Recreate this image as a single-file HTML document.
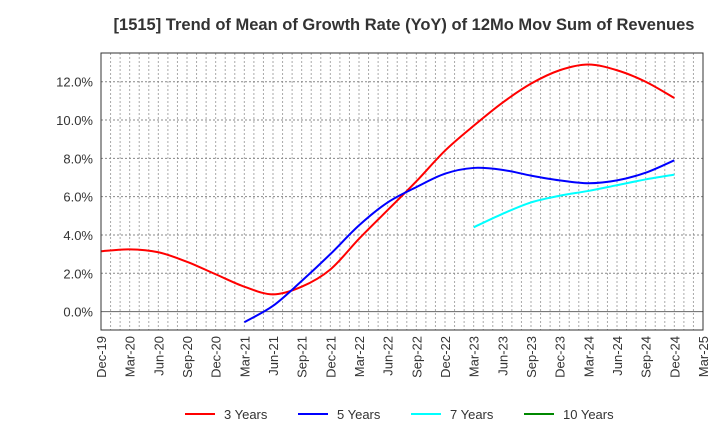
<!DOCTYPE html>
<html><head><meta charset="utf-8"><style>
body{margin:0;background:#fff;font-family:"Liberation Sans",sans-serif}
svg{display:block}
</style></head><body>
<svg id="c" width="720" height="440" xmlns="http://www.w3.org/2000/svg">
<text x="404" y="30" text-anchor="middle" font-size="16.5" font-weight="bold" fill="#333">[1515]  Trend of Mean of Growth Rate (YoY) of 12Mo Mov Sum of Revenues</text>
<g id="grid"></g><g id="series"></g><g id="axes"></g><g id="legend"></g>
</svg>
<script>
const xLabels=["Dec-19","Mar-20","Jun-20","Sep-20","Dec-20","Mar-21","Jun-21","Sep-21","Dec-21","Mar-22","Jun-22","Sep-22","Dec-22","Mar-23","Jun-23","Sep-23","Dec-23","Mar-24","Jun-24","Sep-24","Dec-24","Mar-25"];
const yTicks=[0,2,4,6,8,10,12];
const s3=[3.15,3.25,3.1,2.6,1.95,1.3,0.9,1.3,2.2,3.8,5.3,6.8,8.4,9.7,10.9,11.9,12.6,12.9,12.6,12.0,11.15];
const s5=[null,null,null,null,null,-0.55,0.3,1.6,3.0,4.5,5.7,6.5,7.2,7.5,7.4,7.1,6.85,6.7,6.85,7.25,7.9];
const s7=[null,null,null,null,null,null,null,null,null,null,null,null,null,4.4,5.1,5.7,6.05,6.3,6.6,6.9,7.15];
const s10=[];
const L=101,R=703,T=53,B=330,yMin=-0.96,yMax=13.5;
const X=i=>L+(R-L)*i/(xLabels.length-1);
const Y=v=>B-(v-yMin)/(yMax-yMin)*(B-T);
const NS="http://www.w3.org/2000/svg";
function mk(tag,attrs,parent,text){const e=document.createElementNS(NS,tag);for(const k in attrs)e.setAttribute(k,attrs[k]);if(text!=null)e.textContent=text;document.getElementById(parent).appendChild(e);return e;}
for(let m=1;m<63;m++){const x=L+(R-L)*m/63;
const g=mk('line',{x1:x,x2:x,y1:T,y2:B,stroke:'#aaa','stroke-dasharray':'2,2','stroke-width':1},'grid');

}
yTicks.forEach(v=>{const y=Y(v);
const g=mk('line',{x1:L,x2:R,y1:y,y2:y,stroke:v===0?'#666':'#888','stroke-dasharray':v===0?'':'2,2','stroke-width':1},'grid');


const t=mk('text',{x:L-8,y:y+5,'text-anchor':'end','font-size':13,fill:'#333'},'axes',v.toFixed(1)+'%');

});
const fr=mk('rect',{x:L,y:T,width:R-L,height:B-T,fill:'none',stroke:'#333','stroke-width':1},'axes');


xLabels.forEach((l,i)=>{const x=X(i);
const t=mk('text',{x:x+5,y:B+6,'text-anchor':'end','font-size':13,fill:'#333',transform:`rotate(-90 ${x+5} ${B+6})`},'axes',l);

});
function path(arr){const p=[];arr.forEach((v,i)=>{if(v!=null)p.push([X(i),Y(v)]);});
if(p.length<2)return '';let d=`M${p[0][0]},${p[0][1]}`;
for(let i=0;i<p.length-1;i++){const p0=p[i-1]||p[i],p1=p[i],p2=p[i+1],p3=p[i+2]||p2;
d+=` C${p1[0]+(p2[0]-p0[0])/6},${p1[1]+(p2[1]-p0[1])/6} ${p2[0]-(p3[0]-p1[0])/6},${p2[1]-(p3[1]-p1[1])/6} ${p2[0]},${p2[1]}`;}
return d;}
const series=[[s3,'#f00','3 Years','line-3-years'],[s5,'#00f','5 Years','line-5-years'],[s7,'#0ff','7 Years','line-7-years'],[s10,'#080','10 Years','line-10-years']];
series.forEach(([a,c,n,dn],k)=>{const d=path(a);
if(d){const e=mk('path',{d:d,fill:'none',stroke:c,'stroke-width':2},'series');

}
const lx=185+k*113;
const li=mk('line',{x1:lx,x2:lx+30,y1:414,y2:414,stroke:c,'stroke-width':2},'legend');


const lt=mk('text',{x:lx+39,y:419,'font-size':13,fill:'#333'},'legend',n);

});
</script>
</body></html>
